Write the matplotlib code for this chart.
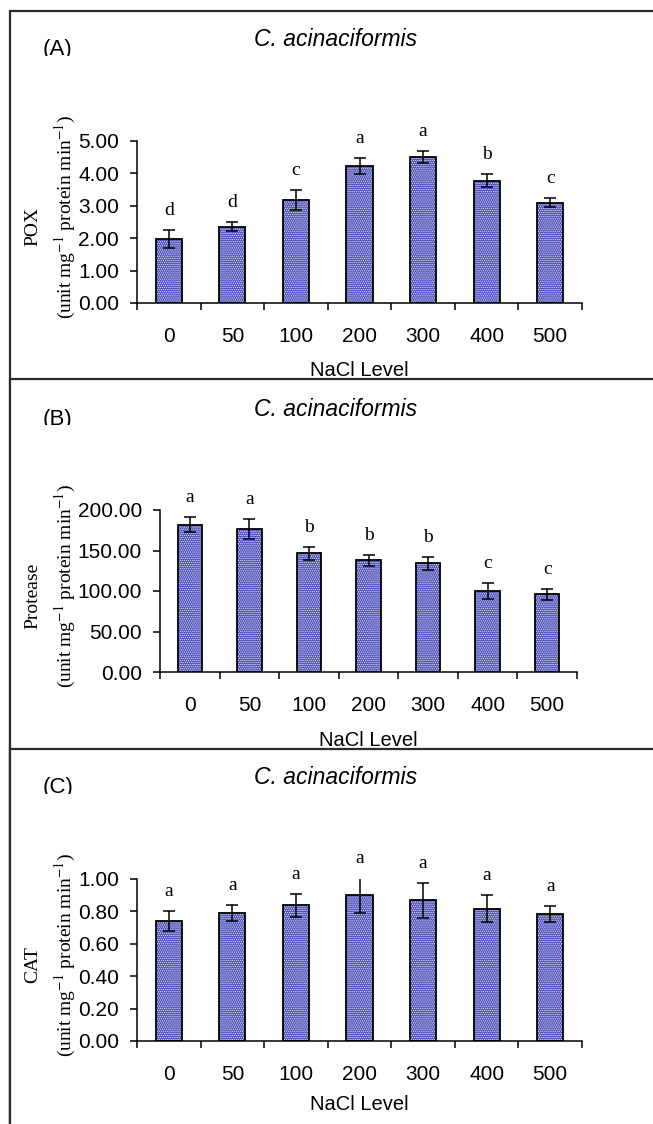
import numpy as np
import matplotlib
matplotlib.use("Agg")
import matplotlib.pyplot as plt
from matplotlib.patches import Rectangle
from matplotlib.transforms import Bbox, TransformedBbox
from matplotlib.ticker import FormatStrFormatter, FixedLocator


NACL = ["0", "50", "100", "200", "300", "400", "500"]

POX_MEAN = [1.97, 2.36, 3.18, 4.24, 4.50, 3.77, 3.10]
POX_ERR = [0.28, 0.15, 0.31, 0.25, 0.19, 0.20, 0.13]
POX_LET = ["d", "d", "c", "a", "a", "b", "c"]

PRO_MEAN = [182.0, 177.0, 146.5, 138.0, 134.0, 100.0, 96.0]
PRO_ERR = [9.5, 12.4, 8.0, 7.0, 8.0, 10.0, 7.0]
PRO_LET = ["a", "a", "b", "b", "b", "c", "c"]

CAT_MEAN = [0.743, 0.788, 0.837, 0.899, 0.868, 0.817, 0.786]
CAT_ERR = [0.062, 0.05, 0.07, 0.107, 0.11, 0.082, 0.05]
CAT_LET = ["a", "a", "a", "a", "a", "a", "a"]

PANELS = [
    ("(A)", "POX", POX_MEAN, POX_ERR, POX_LET, 5.0, 1.0),
    ("(B)", "Protease", PRO_MEAN, PRO_ERR, PRO_LET, 200.0, 50.0),
    ("(C)", "CAT", CAT_MEAN, CAT_ERR, CAT_LET, 1.0, 0.2),
]

W, H = 653, 1124
SANS = "Liberation Sans"
SERIF = "Liberation Serif"
plt.rcParams["mathtext.fontset"] = "stix"
plt.rcParams["hatch.linewidth"] = 0.6


def fx(px):
    return px / W


def fy(py):
    return 1 - py / H


fig = plt.figure(figsize=(W / 100, H / 100), dpi=100)

# pixel layout of each panel: vertical shift, box top, axes left/right, xlabel offset
offsets = [0, 369, 738]
box_tops = [11, 379, 749]
ax_lr = [(137, 582), (160, 577), (137, 582)]
xlab_off = [68, 69, 64]

for i, (tag, name, mean, err, letters, ymax, ystep) in enumerate(PANELS):
    dy = offsets[i]
    left, right = ax_lr[i]

    box = Rectangle((fx(10), fy(1200)), fx(700), fy(box_tops[i]) - fy(1200),
                    transform=fig.transFigure, facecolor="white",
                    edgecolor="#2b2b2b", linewidth=1.6, zorder=2 * i + 1)
    fig.add_artist(box)

    ax = fig.add_axes([fx(left), fy(303 + dy), fx(right) - fx(left), 162 / H])
    ax.set_zorder(2 * i + 2)
    ax.patch.set_visible(False)

    x = np.arange(len(NACL))
    ax.bar(x, mean, width=0.41, color="#4c50bb", linewidth=0, zorder=2)
    ax.bar(x, mean, width=0.41, facecolor="none", edgecolor="#e8e8f8",
           linewidth=0, hatch="........", zorder=3)
    ax.bar(x, mean, width=0.41, facecolor="none", edgecolor="black",
           linewidth=1.3, zorder=4)
    ax.errorbar(x, mean, yerr=err, fmt="none", ecolor="black",
                elinewidth=1.1, capsize=4.3, capthick=1.1, zorder=5)

    for xi, m, e, lab in zip(x, mean, err, letters):
        ax.annotate(lab, (xi, m + e), xytext=(0, 14), textcoords="offset points",
                    ha="center", va="center", fontsize=14, family=SERIF,
                    annotation_clip=False)

    ax.set_xlim(-0.5, len(NACL) - 0.5)
    ax.set_ylim(0, ymax)
    ax.set_yticks(np.arange(0, ymax + ystep / 2, ystep))
    ax.yaxis.set_major_formatter(FormatStrFormatter("%.2f"))
    ax.set_xticks(x)
    ax.set_xticklabels(NACL)
    ax.xaxis.set_minor_locator(FixedLocator(np.arange(-0.5, len(NACL), 1.0)))
    ax.tick_params(axis="x", which="major", length=0, pad=17, labelsize=15)
    ax.tick_params(axis="x", which="minor", length=5, width=1.1, direction="out")
    ax.tick_params(axis="y", length=5, width=1.1, direction="out", pad=8,
                   labelsize=15)
    for lbl in ax.get_xticklabels() + ax.get_yticklabels():
        lbl.set_family(SANS)

    for side in ("top", "right"):
        ax.spines[side].set_visible(False)
    for side in ("left", "bottom"):
        ax.spines[side].set_linewidth(1.1)

    ax.text(0.5, -xlab_off[i] / 162, "NaCl Level", transform=ax.transAxes,
            ha="center", va="center", fontsize=14.5, family=SANS, clip_on=False)

    fig.text(fx(33), fy(227 + dy), name, rotation=90, ha="center", va="center",
             fontsize=14, family=SERIF, zorder=2 * i + 2)
    fig.text(fx(65), fy(217 + dy), r"(unit mg$^{-1}$ protein min$^{-1}$)",
             rotation=90, ha="center", va="center", fontsize=14,
             family=SERIF, zorder=2 * i + 2)

    fig.text(fx(336), fy(40 + dy), "C. acinaciformis", style="italic",
             ha="center", va="center", fontsize=16.5, family=SANS,
             zorder=2 * i + 2)

    t = fig.text(fx(43), fy(50 + dy), tag, ha="left", va="center",
                 fontsize=16, family=SANS, zorder=2 * i + 2)
    t.set_clip_box(TransformedBbox(Bbox([[0, fy(56 + dy)], [1, 1]]),
                                   fig.transFigure))

fig.savefig("out.png", dpi=100)
